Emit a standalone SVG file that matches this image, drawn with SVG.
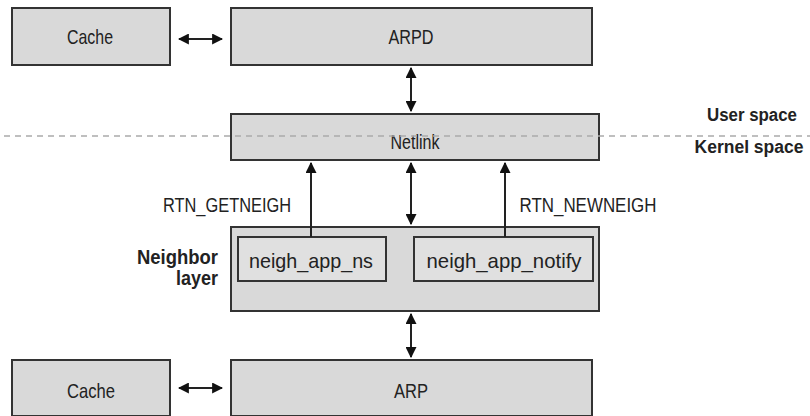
<svg xmlns="http://www.w3.org/2000/svg" width="810" height="416" viewBox="0 0 810 416">
<defs>
<style>
.box{fill:#d9d9d9;stroke:#333;stroke-width:2}
.in{fill:#e0e0e0}
.t{font-family:"Liberation Sans",Arial,sans-serif;font-size:21px;fill:#222;text-anchor:middle}
.b{font-weight:bold}
.ln{stroke:#222;stroke-width:2;fill:none}
</style>
<marker id="ah" viewBox="0 0 10 10" refX="9" refY="5" markerWidth="11" markerHeight="11" markerUnits="userSpaceOnUse" orient="auto-start-reverse">
<path d="M0,0 L10,5 L0,10 z" fill="#111"/>
</marker>
</defs>
<rect width="810" height="416" fill="#fff"/>
<g id="cache-top"><rect class="box" x="12" y="8" width="158" height="57"/><text class="t" x="90" y="44" textLength="46" lengthAdjust="spacingAndGlyphs">Cache</text></g>
<g id="arpd"><rect class="box" x="231" y="8" width="361" height="57"/><text class="t" x="411" y="44" textLength="45" lengthAdjust="spacingAndGlyphs">ARPD</text></g>
<g id="netlink"><rect class="box" x="231" y="114" width="368" height="46"/><text class="t" x="415" y="149" textLength="49" lengthAdjust="spacingAndGlyphs">Netlink</text></g>
<g id="neighbor-layer"><rect class="box" x="231" y="227" width="368" height="84"/>
<text class="t b" x="218" y="264" style="text-anchor:end" textLength="81" lengthAdjust="spacingAndGlyphs">Neighbor</text>
<text class="t b" x="218" y="285" style="text-anchor:end" textLength="42" lengthAdjust="spacingAndGlyphs">layer</text></g>
<g id="neigh_app_ns"><rect class="box in" x="238" y="237" width="148" height="44"/><text class="t" x="311" y="268" textLength="124" lengthAdjust="spacingAndGlyphs">neigh_app_ns</text></g>
<g id="neigh_app_notify"><rect class="box in" x="414" y="237" width="179" height="44"/><text class="t" x="504" y="268" textLength="155" lengthAdjust="spacingAndGlyphs">neigh_app_notify</text></g>
<g id="cache-bottom"><rect class="box" x="12" y="360" width="158" height="56"/><text class="t" x="91" y="398" textLength="48" lengthAdjust="spacingAndGlyphs">Cache</text></g>
<g id="arp"><rect class="box" x="231" y="360" width="361" height="56"/><text class="t" x="411" y="398" textLength="34" lengthAdjust="spacingAndGlyphs">ARP</text></g>
<g id="separator">
<line x1="4" y1="136" x2="810" y2="136" stroke="#aaa" stroke-width="1.5" stroke-dasharray="6,5"/>
<text class="t b" x="752" y="121" style="font-size:18px" textLength="90" lengthAdjust="spacingAndGlyphs">User space</text>
<text class="t b" x="749" y="153" style="font-size:18px" textLength="109" lengthAdjust="spacingAndGlyphs">Kernel space</text>
</g>
<g id="connectors">
<line class="ln" x1="179" y1="39" x2="222" y2="39" marker-start="url(#ah)" marker-end="url(#ah)"/>
<line class="ln" x1="411" y1="68" x2="411" y2="111" marker-start="url(#ah)" marker-end="url(#ah)"/>
<line class="ln" x1="311" y1="237" x2="311" y2="163" marker-end="url(#ah)"/>
<line class="ln" x1="411" y1="163" x2="411" y2="224" marker-start="url(#ah)" marker-end="url(#ah)"/>
<line class="ln" x1="505" y1="237" x2="505" y2="163" marker-end="url(#ah)"/>
<line class="ln" x1="411" y1="314" x2="411" y2="357" marker-start="url(#ah)" marker-end="url(#ah)"/>
<line class="ln" x1="179" y1="388" x2="222" y2="388" marker-start="url(#ah)" marker-end="url(#ah)"/>
<text class="t" x="227" y="212" textLength="128" lengthAdjust="spacingAndGlyphs">RTN_GETNEIGH</text>
<text class="t" x="588" y="212" textLength="137" lengthAdjust="spacingAndGlyphs">RTN_NEWNEIGH</text>
</g>
</svg>
